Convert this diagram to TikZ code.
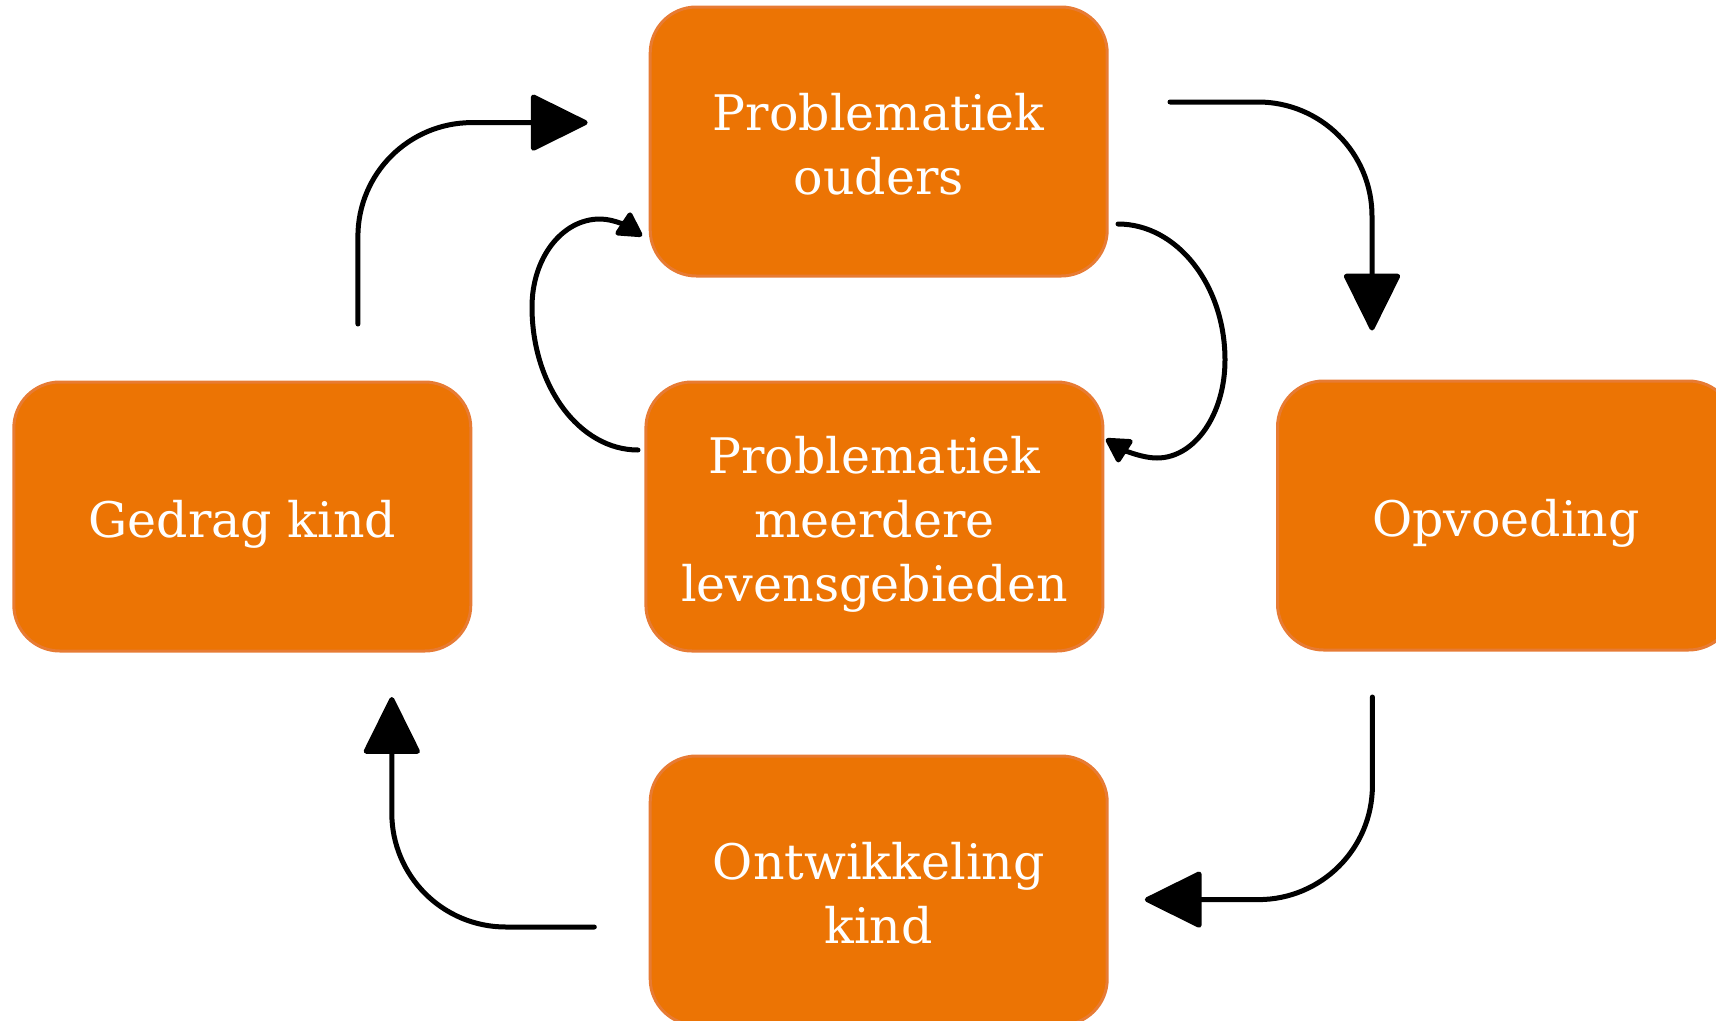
\documentclass[tikz,border=0pt]{standalone}
\usepackage{fontspec}
\setmainfont{DejaVu Serif}
\usetikzlibrary{arrows.meta}
\definecolor{boxfill}{RGB}{236,116,4}
\definecolor{boxline}{RGB}{231,123,52}
\newcommand{\dnstrut}{\rule{0pt}{52pt}}
\newcommand{\dntwo}{\rule{0pt}{42pt}}
\begin{document}
\begin{tikzpicture}[x=1pt,y=-1pt,
  box/.style={draw=boxline, line width=3pt, fill=boxfill, rounded corners=46pt,
    minimum width=457pt, minimum height=269pt, inner sep=0pt, text=white,
    align=center, font=\fontsize{49}{64}\selectfont},
  flow/.style={line width=5pt, line cap=round, -{Triangle[length=60pt,width=58pt,round]}},
  loopar/.style={line width=5pt, line cap=round, -{Triangle[length=27pt,width=29pt,round]}}]
\path[use as bounding box, clip] (0,0) rectangle (1716,1020);

\node[box] (po) at (878.7,141.5) {\dntwo Problematiek\\ouders};
\node[box] (pm) at (874.4,516.5) {\dnstrut Problematiek\\meerdere\\levensgebieden};
\node[box] (gk) at (242.3,516.5) {\dnstrut Gedrag kind};
\node[box] (op) at (1506,515.5) {\dnstrut Opvoeding};
\node[box] (ok) at (878.7,890.5) {\dntwo Ontwikkeling\\kind};

\coordinate (a1s) at (1170,102);   \coordinate (a1e) at (1372,330.5);
\coordinate (a2s) at (1372.4,697); \coordinate (a2e) at (1144.8,899.6);
\coordinate (a3s) at (594.3,927);  \coordinate (a3e) at (391.8,697);
\coordinate (a4s) at (357.9,324);  \coordinate (a4e) at (587.7,122.6);

\draw[flow, rounded corners=114pt] (a1s) -| (a1e);
\draw[flow, rounded corners=114pt] (a2s) |- (a2e);
\draw[flow, rounded corners=114pt] (a3s) -| (a3e);
\draw[flow, rounded corners=114pt] (a4s) |- (a4e);

\coordinate (c1s) at (638,450); \coordinate (c1e) at (642,236);
\draw[loopar] (c1s) .. controls (579.5,450) and (532,386) .. (532,307)
  .. controls (532,258) and (562,219) .. (600,219)
  .. controls (615,219) and (630,228) .. (c1e);

\coordinate (c2s) at (1118,224); \coordinate (c2e) at (1106,439);
\draw[loopar] (c2s) .. controls (1177,224) and (1225,285) .. (1225,360)
  .. controls (1225,414) and (1195,458) .. (1157,458)
  .. controls (1140,458) and (1120,448) .. (c2e);
\end{tikzpicture}
\end{document}
